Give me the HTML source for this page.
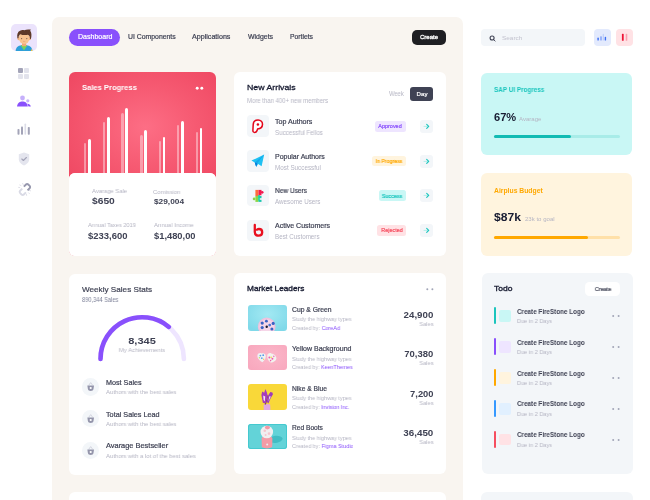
<!DOCTYPE html>
<html><head><meta charset="utf-8">
<style>
*{box-sizing:border-box;margin:0;padding:0}
html,body{width:650px;height:500px;overflow:hidden;background:#ffffff;font-family:'Liberation Sans',sans-serif}
.a{position:absolute}
.t{position:absolute;white-space:nowrap;font-family:'Liberation Sans',sans-serif;will-change:transform}
.card{position:absolute;background:#fff;border-radius:6px}
.badge{position:absolute;height:10.7px;border-radius:2.5px}
.arr{position:absolute;width:13px;height:13px;background:#f3f6f9;border-radius:3px}
.ibox{position:absolute;left:247px;width:21.6px;height:21.6px;background:#f3f6f9;border-radius:4px}
.bar{position:absolute;border-radius:1.5px 1.5px 0 0}
.img{position:absolute;left:247.5px;width:39px;height:25.7px;border-radius:3px;overflow:hidden}
.circ{position:absolute;left:81.8px;width:17.4px;height:17.4px;border-radius:50%;background:#f3f6f9}
.tbar{position:absolute;left:493.8px;width:1.8px;height:16.7px;border-radius:1px}
.tsq{position:absolute;left:499.4px;width:11.4px;height:11.6px;border-radius:2px}
.dot{position:absolute;width:1.8px;height:1.8px;border-radius:50%}
</style></head><body>
<!-- sidebar -->
<div class="a" style="left:11px;top:24px;width:25.5px;height:26.5px;border-radius:5px;background:#ebe3fc;overflow:hidden">
<svg width="26" height="27" viewBox="0 0 26 27">
 <path d="M4.6 27 C4.8 23 7.6 21 13 21 C18.4 21 21.2 23 21.4 27 Z" fill="#2e9fd9"/>
 <path d="M9.6 21.2 L13 26.5 L16.4 21.2 Z" fill="#76d35a"/>
 <path d="M20.6 24.8 L21.6 27 L19.8 27 Z" fill="#f4c53c"/>
 <rect x="11" y="17.6" width="4.2" height="4.6" fill="#f2a877"/>
 <ellipse cx="7.6" cy="14.6" rx="1.2" ry="1.6" fill="#f2b07e"/>
 <ellipse cx="18.8" cy="14.6" rx="1.2" ry="1.6" fill="#f2b07e"/>
 <ellipse cx="13.2" cy="14.2" rx="5.4" ry="5.8" fill="#f8c490"/>
 <path d="M6.4 14.2 C5.8 10.6 6.6 7.8 9 6.8 C10.4 5.8 12 5.8 13.2 6.2 C14.8 5.4 17.2 5.2 19.9 5.6 C19.3 6.1 19.1 6.6 19.5 7.2 C20.7 8.8 20.7 11.8 19.9 15.2 L18.9 14.4 C18.9 12.4 18.1 11.2 16.9 10.8 C14.1 11.4 11.1 11 9.1 10.2 C8 11.4 7.5 12.6 7.5 14.2 Z" fill="#5e3a28"/>
 <ellipse cx="10.6" cy="14.6" rx="0.6" ry="0.55" fill="#7a5a48"/><ellipse cx="15.8" cy="14.6" rx="0.6" ry="0.55" fill="#7a5a48"/>
 <path d="M12 17.3 Q13.2 18 14.4 17.3" stroke="#e0956a" stroke-width="0.5" fill="none"/>
</svg></div>
<div class="a" style="left:18px;top:67.6px;width:5px;height:5px;background:#a3a4b8;border-radius:1px"></div>
<div class="a" style="left:24px;top:67.6px;width:5px;height:5px;background:#e2e3ec;border-radius:1px"></div>
<div class="a" style="left:18px;top:73.8px;width:5px;height:5px;background:#e2e3ec;border-radius:1px"></div>
<div class="a" style="left:24px;top:73.8px;width:5px;height:5px;background:#e2e3ec;border-radius:1px"></div>
<svg class="a" style="left:16px;top:95px" width="16" height="13" viewBox="0 0 16 13">
 <circle cx="6.5" cy="3" r="2.4" fill="#c6b0fb"/>
 <circle cx="11.8" cy="5.8" r="1.6" fill="#c6b0fb"/>
 <path d="M1 11.6 C1.5 7.8 4 6.6 6.5 6.6 C9 6.6 11.2 7.8 11.8 11.6 Z" fill="#8950fc"/>
 <path d="M11.2 8.8 C12.8 8.6 14.3 9.6 14.8 11.6 L12.6 11.6 Z" fill="#8950fc"/>
</svg>
<svg class="a" style="left:17px;top:123px" width="14" height="12" viewBox="0 0 14 12">
 <rect x="0.5" y="6" width="2" height="5.7" rx="0.8" fill="#a3a4b8"/>
 <rect x="4" y="3.5" width="2" height="8.2" rx="0.8" fill="#a3a4b8"/>
 <rect x="7.5" y="0.5" width="1.6" height="11.2" rx="0.8" fill="#dcdde8"/>
 <rect x="10.8" y="4" width="2" height="7.7" rx="0.8" fill="#a3a4b8"/>
</svg>
<svg class="a" style="left:18px;top:151.5px" width="12" height="14" viewBox="0 0 12 14">
 <path d="M0.8 2.2 L6 0.4 L11.2 2.2 L11.2 7.2 C11.2 10.2 8.6 12.4 6 13.4 C3.4 12.4 0.8 10.2 0.8 7.2 Z" fill="#e4e5ee"/>
 <path d="M3.8 7 L5.4 8.5 L8.4 5.5" stroke="#a3a4b8" stroke-width="1.1" fill="none" stroke-linecap="round" stroke-linejoin="round"/>
</svg>
<svg class="a" style="left:14px;top:178px" width="22" height="22" viewBox="0 0 22 22">
 <g transform="translate(13.4 8.8) rotate(45) translate(-2.6 -2.2)"><path d="M0 4.6 L0 1.6 A1.6 1.6 0 0 1 1.6 0 L3.6 0 A1.6 1.6 0 0 1 5.2 1.6 L5.2 4.6" stroke="#9798ae" stroke-width="1.9" fill="none"/></g>
 <g transform="translate(8.4 14.2) rotate(45) translate(-2.6 -2.4)"><path d="M0 0 L0 3 A1.6 1.6 0 0 0 1.6 4.6 L3.6 4.6 A1.6 1.6 0 0 0 5.2 3 L5.2 0" stroke="#d9dae5" stroke-width="1.9" fill="none"/></g>
 <path d="M8.6 5.4 L9.2 6.6 M5.8 7 L7 7.6 M4.6 9.4 L5.8 9.6 M15.4 12.4 L16.6 12.8 M14.6 14.8 L15.4 15.6 M12.4 16.2 L12.6 17.4" stroke="#dcdde7" stroke-width="0.9" stroke-linecap="round"/>
</svg>

<!-- main beige container -->
<div class="a" style="left:52px;top:17px;width:411px;height:560px;background:#f9f5f0;border-radius:7px"></div>

<!-- nav -->
<div class="a" style="left:69px;top:29px;width:51px;height:17px;border-radius:8.5px;background:#8950fc"></div>
<div class="a" style="left:411.8px;top:30px;width:34.5px;height:14.5px;border-radius:5px;background:#1f1f23"></div>

<!-- right top -->
<div class="a" style="left:481px;top:29px;width:104px;height:17px;border-radius:4px;background:#f3f6f9"></div>
<svg class="a" style="left:488.5px;top:34.5px" width="7" height="7" viewBox="0 0 7 7">
 <circle cx="3.1" cy="3" r="2.0" stroke="#3f4254" stroke-width="1.1" fill="none"/>
 <path d="M4.6 4.5 L6.1 6" stroke="#3f4254" stroke-width="1.0" stroke-linecap="round"/>
</svg>
<div class="a" style="left:594px;top:29.2px;width:17px;height:16.8px;border-radius:4px;background:#e3eafd"></div>
<svg class="a" style="left:594px;top:29.2px" width="17" height="17" viewBox="0 0 17 17">
 <rect x="3.4" y="8.6" width="1.4" height="3" rx="0.6" fill="#3d6ff5"/>
 <rect x="6.3" y="7.2" width="1.4" height="4.4" rx="0.6" fill="#7f9ff8"/>
 <rect x="8.7" y="4.8" width="1.2" height="6.8" rx="0.6" fill="#bfd0fb"/>
 <rect x="10.7" y="7.8" width="1.4" height="3.8" rx="0.6" fill="#3d6ff5"/>
</svg>
<div class="a" style="left:615.5px;top:29.2px;width:17px;height:16.8px;border-radius:4px;background:#ffe2e5"></div>
<svg class="a" style="left:615.5px;top:29.2px" width="17" height="17" viewBox="0 0 17 17">
 <rect x="5.9" y="4.8" width="1.8" height="7" rx="0.6" fill="#ee1436"/>
 <rect x="9.7" y="4.8" width="1.6" height="7" rx="0.6" fill="#fa9fad"/>
</svg>

<!-- sales progress -->
<div class="card" style="left:69px;top:72.2px;width:147px;height:183.8px;overflow:hidden;background:radial-gradient(ellipse 100px 80px at 52% 30%, #fd6e85 0%, #f65a72 50%, #ef4862 100%)">
 <div id="bars"></div>
 <div class="a" style="left:0;top:100.8px;width:147px;height:90px;background:#fff;border-radius:6px 6px 0 0"></div>
</div>
<svg class="a" style="left:190px;top:80px" width="20" height="16" viewBox="0 0 20 16"><circle cx="7.2" cy="8.2" r="1.45" fill="#fff"/><circle cx="11.8" cy="8.2" r="1.45" fill="#fff"/></svg>
<div class="bar" style="left:83.80px;top:143.40px;width:2.4px;height:30.60px;background:rgba(255,255,255,0.4)"></div>
<div class="bar" style="left:102.60px;top:121.50px;width:2.4px;height:52.50px;background:rgba(255,255,255,0.4)"></div>
<div class="bar" style="left:121.30px;top:112.70px;width:2.4px;height:61.30px;background:rgba(255,255,255,0.4)"></div>
<div class="bar" style="left:140.20px;top:134.60px;width:2.4px;height:39.40px;background:rgba(255,255,255,0.4)"></div>
<div class="bar" style="left:158.60px;top:141.00px;width:2.4px;height:33.00px;background:rgba(255,255,255,0.4)"></div>
<div class="bar" style="left:177.10px;top:125.40px;width:2.4px;height:48.60px;background:rgba(255,255,255,0.4)"></div>
<div class="bar" style="left:195.60px;top:132.30px;width:2.4px;height:41.70px;background:rgba(255,255,255,0.4)"></div>
<div class="bar" style="left:87.80px;top:139.20px;width:2.8px;height:34.80px;background:#fff"></div>
<div class="bar" style="left:106.80px;top:116.80px;width:2.8px;height:57.20px;background:#fff"></div>
<div class="bar" style="left:125.20px;top:108.00px;width:2.8px;height:66.00px;background:#fff"></div>
<div class="bar" style="left:144.10px;top:130.00px;width:2.8px;height:44.00px;background:#fff"></div>
<div class="bar" style="left:162.60px;top:136.50px;width:2.8px;height:37.50px;background:#fff"></div>
<div class="bar" style="left:181.10px;top:121.20px;width:2.8px;height:52.80px;background:#fff"></div>
<div class="bar" style="left:199.60px;top:127.70px;width:2.8px;height:46.30px;background:#fff"></div>
<div class="a" style="left:69px;top:173px;width:147px;height:83px;background:#fff;border-radius:6px"></div>

<!-- new arrivals -->
<div class="card" style="left:234.2px;top:72.2px;width:211.8px;height:183.8px"></div>
<div class="a" style="left:410.4px;top:87.3px;width:22.6px;height:14px;border-radius:3px;background:#3f4254"></div>
<div class="ibox" style="top:115.40px"></div>
<svg class="a" style="left:247px;top:115.00px" width="22" height="22" viewBox="0 0 22 22">
 <path d="M7.6 17.4 C6.4 17.4 5.8 16.6 5.9 15.5 L6.2 9.6 C6.3 6.6 8.4 4.9 11.1 4.9 C13.8 4.9 15.6 6.9 15.5 9.4 C15.4 12.3 13.3 13.8 10.6 14 L9.9 15.9 C9.5 16.9 8.7 17.4 7.6 17.4 Z" fill="#fff" stroke="#e4061a" stroke-width="1.5"/>
 <circle cx="10.9" cy="9.4" r="1.25" fill="#e4061a"/>
 </svg>
<div class="badge" style="left:374.7px;top:121.00px;width:31.50px;background:#eee5ff"></div>
<div class="arr" style="left:420px;top:120.00px"></div>
<svg class="a" style="left:420px;top:120.00px" width="13" height="13" viewBox="0 0 13 13">
 <path d="M4 6.4 L7.4 6.4" stroke="#b2ede9" stroke-width="1.0" stroke-linecap="round"/>
 <path d="M6.7 4.4 L8.7 6.4 L6.7 8.4" stroke="#1bc5bd" stroke-width="1.15" fill="none" stroke-linecap="round" stroke-linejoin="round"/>
 </svg>
<div class="ibox" style="top:150.10px"></div>
<svg class="a" style="left:247px;top:149.70px" width="22" height="22" viewBox="0 0 22 22">
 <path d="M17.2 4.6 L4.4 10.6 L7.8 12.4 L9.2 16.8 L11.2 13.9 L14.6 16.2 Z" fill="#1fc0f2"/>
 <path d="M17.2 4.6 L7.8 12.4 L9.2 16.8 L10.2 13.4 Z" fill="#12a8ec"/>
 <path d="M7.8 12.4 L9.2 16.8 L10.2 13.4 Z" fill="#0a78d8"/>
 </svg>
<div class="badge" style="left:372.0px;top:155.70px;width:34.20px;background:#fff4de"></div>
<div class="arr" style="left:420px;top:154.70px"></div>
<svg class="a" style="left:420px;top:154.70px" width="13" height="13" viewBox="0 0 13 13">
 <path d="M4 6.4 L7.4 6.4" stroke="#b2ede9" stroke-width="1.0" stroke-linecap="round"/>
 <path d="M6.7 4.4 L8.7 6.4 L6.7 8.4" stroke="#1bc5bd" stroke-width="1.15" fill="none" stroke-linecap="round" stroke-linejoin="round"/>
 </svg>
<div class="ibox" style="top:184.80px"></div>
<svg class="a" style="left:247px;top:184.40px" width="22" height="22" viewBox="0 0 22 22">
 <rect x="8.4" y="5.9" width="3.1" height="6.1" fill="#ff6b3d"/>
 <rect x="11.5" y="5.9" width="3.0" height="5.4" fill="#f4194f"/>
 <circle cx="15.2" cy="8.3" r="1.35" fill="#f4194f"/>
 <rect x="8.4" y="12" width="3.1" height="5.9" fill="#8bd648"/>
 <circle cx="7.1" cy="14.9" r="1.35" fill="#8bd648"/>
 <rect x="11.5" y="12" width="3.0" height="2.2" fill="#1cc7b0"/>
 <rect x="11.5" y="15.8" width="3.0" height="2.1" fill="#1cc7b0"/>
 <rect x="11.2" y="11" width="1.6" height="5.6" fill="#19d3a2"/>
 </svg>
<div class="badge" style="left:378.5px;top:190.40px;width:27.70px;background:#c9f7f5"></div>
<div class="arr" style="left:420px;top:189.40px"></div>
<svg class="a" style="left:420px;top:189.40px" width="13" height="13" viewBox="0 0 13 13">
 <path d="M4 6.4 L7.4 6.4" stroke="#b2ede9" stroke-width="1.0" stroke-linecap="round"/>
 <path d="M6.7 4.4 L8.7 6.4 L6.7 8.4" stroke="#1bc5bd" stroke-width="1.15" fill="none" stroke-linecap="round" stroke-linejoin="round"/>
 </svg>
<div class="ibox" style="top:219.50px"></div>
<svg class="a" style="left:247px;top:219.10px" width="22" height="22" viewBox="0 0 22 22">
 <path d="M7.8 5.9 L7.8 13 C7.8 15.6 9.6 16.6 11.6 16.6 C13.8 16.6 15.2 15.2 15.2 13.2 C15.2 11.2 13.8 10 12 10 C11.2 10 10.5 10.3 10 10.7" stroke="#e8101f" stroke-width="2.3" fill="none" stroke-linecap="round"/>
 </svg>
<div class="badge" style="left:377.4px;top:225.10px;width:28.80px;background:#ffe2e5"></div>
<div class="arr" style="left:420px;top:224.10px"></div>
<svg class="a" style="left:420px;top:224.10px" width="13" height="13" viewBox="0 0 13 13">
 <path d="M4 6.4 L7.4 6.4" stroke="#b2ede9" stroke-width="1.0" stroke-linecap="round"/>
 <path d="M6.7 4.4 L8.7 6.4 L6.7 8.4" stroke="#1bc5bd" stroke-width="1.15" fill="none" stroke-linecap="round" stroke-linejoin="round"/>
 </svg>

<!-- SAP / budget -->
<div class="card" style="left:481.4px;top:72.6px;width:151px;height:82.6px;background:#c9f7f5"></div>
<div class="a" style="left:494px;top:135.2px;width:125.6px;height:3.2px;border-radius:2px;background:#a8ece8"></div>
<div class="a" style="left:494px;top:135.2px;width:77px;height:3.2px;border-radius:2px;background:#12bbb3"></div>
<div class="card" style="left:481.2px;top:172.9px;width:151px;height:82.7px;background:#fff4de"></div>
<div class="a" style="left:494px;top:235.9px;width:125.5px;height:3px;border-radius:2px;background:#ffe0a8"></div>
<div class="a" style="left:494px;top:235.9px;width:94px;height:3px;border-radius:2px;background:#ffa800"></div>

<!-- weekly -->
<div class="card" style="left:68.9px;top:273.6px;width:146.9px;height:201px"></div>
<svg class="a" style="left:92px;top:308px" width="100" height="60" viewBox="0 0 100 60">
 <path d="M8.5 51 A41.7 41.7 0 0 1 91.9 51" stroke="#eee5ff" stroke-width="4.6" fill="none" stroke-linecap="round"/>
 <path d="M8.5 51 A41.7 41.7 0 0 1 76.9 18.9" stroke="#8950fc" stroke-width="4.6" fill="none" stroke-linecap="round"/>
</svg>
<div class="circ" style="top:378.40px"></div>
<svg class="a" style="left:81.8px;top:378.40px" width="17.4" height="17.4" viewBox="0 0 17.4 17.4">
 <path d="M6.8 7.2 L8.7 4.6 L10.6 7.2" stroke="#cfd0dd" stroke-width="0.9" fill="none"/>
 <path d="M5.4 7.4 L12 7.4 L11.6 10.4 C11.3 12.2 10.3 12.9 8.7 12.9 C7.1 12.9 6.1 12.2 5.8 10.4 Z" fill="#9495ab"/>
 <circle cx="8.7" cy="10" r="1.1" fill="#fff"/>
 </svg>
<div class="circ" style="top:410.10px"></div>
<svg class="a" style="left:81.8px;top:410.10px" width="17.4" height="17.4" viewBox="0 0 17.4 17.4">
 <path d="M6.8 7.2 L8.7 4.6 L10.6 7.2" stroke="#cfd0dd" stroke-width="0.9" fill="none"/>
 <path d="M5.4 7.4 L12 7.4 L11.6 10.4 C11.3 12.2 10.3 12.9 8.7 12.9 C7.1 12.9 6.1 12.2 5.8 10.4 Z" fill="#9495ab"/>
 <circle cx="8.7" cy="10" r="1.1" fill="#fff"/>
 </svg>
<div class="circ" style="top:441.80px"></div>
<svg class="a" style="left:81.8px;top:441.80px" width="17.4" height="17.4" viewBox="0 0 17.4 17.4">
 <path d="M6.8 7.2 L8.7 4.6 L10.6 7.2" stroke="#cfd0dd" stroke-width="0.9" fill="none"/>
 <path d="M5.4 7.4 L12 7.4 L11.6 10.4 C11.3 12.2 10.3 12.9 8.7 12.9 C7.1 12.9 6.1 12.2 5.8 10.4 Z" fill="#9495ab"/>
 <circle cx="8.7" cy="10" r="1.1" fill="#fff"/>
 </svg>

<!-- market leaders -->
<div class="card" style="left:234.4px;top:273.4px;width:212px;height:200.8px"></div>
<svg class="a" style="left:420px;top:280px" width="20" height="16" viewBox="0 0 20 16"><circle cx="7.3" cy="9.2" r="1.0" fill="#a1a5b7"/><circle cx="12.4" cy="9.2" r="1.0" fill="#a1a5b7"/></svg>
<div class="img" style="top:305.00px;background:radial-gradient(ellipse 26px 18px at 50% 35%, #a3e9f3 0%, #80d9e9 100%)">
 <svg width="39" height="26" viewBox="0 0 39 26" style="position:absolute;left:0;top:0">
  <circle cx="18.7" cy="21.4" r="8.8" fill="#f0c2de"/>
  <circle cx="18.7" cy="21.4" r="7.2" fill="#f6d6e8"/>
  <circle cx="18.7" cy="21.7" r="1.2" fill="#16172a"/>
  <circle cx="14.2" cy="18.1" r="1.6" fill="#3a62c4"/><circle cx="18.4" cy="16.2" r="1.4" fill="#3a62c4"/>
  <circle cx="25.2" cy="18.4" r="1.6" fill="#3a62c4"/><circle cx="21.7" cy="20.1" r="1.4" fill="#4a74d4"/>
  <circle cx="14.2" cy="22.6" r="1.6" fill="#3a62c4"/><circle cx="23.9" cy="23.9" r="1.5" fill="#3a62c4"/>
 </svg></div>
<div class="img" style="top:344.50px;background:radial-gradient(ellipse 26px 18px at 55% 45%, #fbb7c9 0%, #f8a8be 100%)">
 <svg width="39" height="26" viewBox="0 0 39 26" style="position:absolute;left:0;top:0">
  <path d="M9.4 11.2 C9.2 8.6 11.6 7.4 13.6 8.4 C15.4 7.6 17.8 8.6 17.8 11 C17.8 13.6 16.2 16 14.4 17.2 C12.4 16.2 9.6 13.8 9.4 11.2 Z" fill="#eef3f4"/>
  <path d="M19.2 10.8 C19.4 8.4 21.6 7.6 23.4 8.4 C25.6 8.6 28.6 10.8 28.4 13.4 C28.2 15.6 25.6 17.4 22.6 17.4 C20.6 16.4 19 13.4 19.2 10.8 Z" fill="#f3f2ee"/>
  <circle cx="12.4" cy="10.6" r="0.9" fill="#5c9be8"/><circle cx="15.2" cy="10.2" r="0.9" fill="#5c9be8"/>
  <circle cx="13.8" cy="13.2" r="0.9" fill="#6aa6ea"/><circle cx="11.4" cy="12.8" r="0.7" fill="#c8e06a"/>
  <circle cx="15.6" cy="14.2" r="0.7" fill="#f0d060"/>
  <circle cx="21.4" cy="12.4" r="1.0" fill="#ef5cae"/><circle cx="24.4" cy="13.8" r="1.0" fill="#ef5cae"/>
  <circle cx="23.2" cy="12.2" r="0.8" fill="#eee04a"/><circle cx="25.8" cy="11.4" r="0.8" fill="#ef7cbf"/>
  <circle cx="22.6" cy="15.6" r="0.8" fill="#ef5cae"/>
 </svg></div>
<div class="img" style="top:384.00px;background:#f9d839">
 <svg width="39" height="26" viewBox="0 0 39 26" style="position:absolute;left:0;top:0">
  <path d="M15.6 20.6 C17 19.8 20.4 19.8 22.2 20.6 L22.4 26 L15.8 26 Z" fill="#e3a8e0"/>
  <path d="M16.6 20.4 L19.6 11 L20.4 11.4 L18 20.6 Z" fill="#7a4a3a"/>
  <path d="M14.8 18.8 L13.4 11 L14.2 7.4 L16.2 8.8 L17.4 5 L18.8 8.2 L19.8 12 L17.6 19.6 Z" fill="#a63bbd"/>
  <path d="M18.6 17.8 L20.4 11 L22.4 8 L24.4 8.4 L25 10.2 L22.6 14.2 L20.4 19.4 Z" fill="#a03cb8"/>
  <path d="M15.2 11.6 L17.2 12.6 L16.8 17.6 L15.6 16 Z" fill="#f2e6f4"/>
  <path d="M21.2 12.2 L22.8 12.4 L20.6 17 Z" fill="#f0e0f2"/>
 </svg></div>
<div class="img" style="top:423.50px;background:#63d3d8;box-shadow:inset 0 0 0 1px #45c9cf">
 <svg width="39" height="26" viewBox="0 0 39 26" style="position:absolute;left:0;top:0">
  <path d="M23.6 13 C27 11 33.5 11.4 34.6 14.4 C34 18 28 19.6 23.6 18.6 Z" fill="#42bdc4"/>
  <path d="M13.6 14.4 C13.6 13.4 14.6 12.8 16 12.8 L22 12.8 C23.4 12.8 24.4 13.4 24.4 14.4 L24.2 22.6 C24.2 23.8 21.6 24.4 19 24.4 C16.4 24.4 13.8 23.8 13.8 22.6 Z" fill="#f49ba6"/>
  <circle cx="18.8" cy="8" r="6.3" fill="#f1eef0"/>
  <circle cx="16.8" cy="6.8" r="1.3" fill="#f6c4cc"/><circle cx="21" cy="9.6" r="1.3" fill="#f6c4cc"/><circle cx="17.6" cy="11" r="1" fill="#f6c4cc"/>
  <ellipse cx="19.4" cy="3.6" rx="2.6" ry="1.8" fill="#f39aa6"/>
  <circle cx="19.2" cy="20.4" r="1" fill="#e9eef0"/>
 </svg></div>

<!-- todo -->
<div class="card" style="left:481.7px;top:273.4px;width:150.9px;height:200.8px;background:#f3f6f9"></div>
<div class="a" style="left:585px;top:281.5px;width:35px;height:14.8px;border-radius:4.5px;background:#fff"></div>
<div class="tbar" style="top:307.40px;background:#1bc5bd"></div>
<div class="tsq" style="top:310.30px;background:#c9f7f5"></div>
<svg class="a" style="left:608px;top:308.00px" width="16" height="16" viewBox="0 0 16 16"><circle cx="5.2" cy="8" r="1.0" fill="#a1a5b7"/><circle cx="10.6" cy="8" r="1.0" fill="#a1a5b7"/></svg>
<div class="tbar" style="top:338.30px;background:#8950fc"></div>
<div class="tsq" style="top:341.20px;background:#eee5ff"></div>
<svg class="a" style="left:608px;top:338.90px" width="16" height="16" viewBox="0 0 16 16"><circle cx="5.2" cy="8" r="1.0" fill="#a1a5b7"/><circle cx="10.6" cy="8" r="1.0" fill="#a1a5b7"/></svg>
<div class="tbar" style="top:369.20px;background:#ffa800"></div>
<div class="tsq" style="top:372.10px;background:#fff4de"></div>
<svg class="a" style="left:608px;top:369.80px" width="16" height="16" viewBox="0 0 16 16"><circle cx="5.2" cy="8" r="1.0" fill="#a1a5b7"/><circle cx="10.6" cy="8" r="1.0" fill="#a1a5b7"/></svg>
<div class="tbar" style="top:400.10px;background:#3699ff"></div>
<div class="tsq" style="top:403.00px;background:#e1f0ff"></div>
<svg class="a" style="left:608px;top:400.70px" width="16" height="16" viewBox="0 0 16 16"><circle cx="5.2" cy="8" r="1.0" fill="#a1a5b7"/><circle cx="10.6" cy="8" r="1.0" fill="#a1a5b7"/></svg>
<div class="tbar" style="top:431.00px;background:#f64e60"></div>
<div class="tsq" style="top:433.90px;background:#ffe2e5"></div>
<svg class="a" style="left:608px;top:431.60px" width="16" height="16" viewBox="0 0 16 16"><circle cx="5.2" cy="8" r="1.0" fill="#a1a5b7"/><circle cx="10.6" cy="8" r="1.0" fill="#a1a5b7"/></svg>

<!-- bottom cards -->
<div class="card" style="left:69px;top:492.2px;width:377px;height:40px"></div>
<div class="card" style="left:481px;top:491.5px;width:151.5px;height:40px;background:#f3f6f9"></div>

<div class="t" style="top:34.14px;font-size:6.8px;line-height:6.8px;color:#ffffff;font-weight:400;-webkit-text-stroke:0.2px;left:77.60px;transform-origin:0 0;transform:scaleX(1.034);">Dashboard</div>
<div class="t" style="top:34.31px;font-size:6.6px;line-height:6.6px;color:#3f4254;font-weight:400;-webkit-text-stroke:0.2px;left:128.10px;transform-origin:0 0;transform:scaleX(1.041);">UI Components</div>
<div class="t" style="top:34.31px;font-size:6.6px;line-height:6.6px;color:#3f4254;font-weight:400;-webkit-text-stroke:0.2px;left:192.10px;transform-origin:0 0;transform:scaleX(1.080);">Applications</div>
<div class="t" style="top:34.31px;font-size:6.6px;line-height:6.6px;color:#3f4254;font-weight:400;-webkit-text-stroke:0.2px;left:247.50px;transform-origin:0 0;transform:scaleX(1.053);">Widgets</div>
<div class="t" style="top:34.31px;font-size:6.6px;line-height:6.6px;color:#3f4254;font-weight:400;-webkit-text-stroke:0.2px;left:289.90px;transform-origin:0 0;transform:scaleX(1.028);">Portlets</div>
<div class="t" style="top:34.42px;font-size:6.0px;line-height:6.0px;color:#ffffff;font-weight:400;-webkit-text-stroke:0.35px;left:429.00px;transform-origin:50% 0;transform:translateX(-50%) scaleX(0.991);">Create</div>
<div class="t" style="top:34.95px;font-size:6.2px;line-height:6.2px;color:#c2c2ce;font-weight:400;left:501.80px;transform-origin:0 0;transform:scaleX(1.039);">Search</div>
<div class="t" style="top:84.31px;font-size:7.9px;line-height:7.9px;color:#ffffff;font-weight:700;left:81.60px;transform-origin:0 0;transform:scaleX(0.962);">Sales Progress</div>
<div class="t" style="top:187.93px;font-size:6.05px;line-height:6.05px;color:#b5b5c3;font-weight:400;left:92.40px;transform-origin:0 0;transform:scaleX(0.971);">Avarage Sale</div>
<div class="t" style="top:197.32px;font-size:8.6px;line-height:8.6px;color:#3f4254;font-weight:700;left:92.40px;transform-origin:0 0;transform:scaleX(1.193);">$650</div>
<div class="t" style="top:188.73px;font-size:6.05px;line-height:6.05px;color:#b5b5c3;font-weight:400;left:153.40px;transform-origin:0 0;transform:scaleX(0.973);">Comission</div>
<div class="t" style="top:197.97px;font-size:7.0px;line-height:7.0px;color:#3f4254;font-weight:700;left:153.60px;transform-origin:0 0;transform:scaleX(1.186);">$29,004</div>
<div class="t" style="top:222.23px;font-size:6.05px;line-height:6.05px;color:#b5b5c3;font-weight:400;left:88.40px;transform-origin:0 0;transform:scaleX(0.931);">Annual Taxes 2019</div>
<div class="t" style="top:232.22px;font-size:8.6px;line-height:8.6px;color:#3f4254;font-weight:700;left:88.40px;transform-origin:0 0;transform:scaleX(1.102);">$233,600</div>
<div class="t" style="top:222.23px;font-size:6.05px;line-height:6.05px;color:#b5b5c3;font-weight:400;left:153.60px;transform-origin:0 0;transform:scaleX(0.983);">Annual Income</div>
<div class="t" style="top:232.22px;font-size:8.6px;line-height:8.6px;color:#3f4254;font-weight:700;left:153.60px;transform-origin:0 0;transform:scaleX(1.086);">$1,480,00</div>
<div class="t" style="top:84.34px;font-size:8.1px;line-height:8.1px;color:#181c32;font-weight:400;-webkit-text-stroke:0.3px;left:246.60px;transform-origin:0 0;transform:scaleX(1.082);">New Arrivals</div>
<div class="t" style="top:97.64px;font-size:6.27px;line-height:6.27px;color:#b5b5c3;font-weight:400;left:246.60px;transform-origin:0 0;transform:scaleX(0.952);">More than 400+ new members</div>
<div class="t" style="top:91.34px;font-size:6.27px;line-height:6.27px;color:#b5b5c3;font-weight:400;left:389.00px;transform-origin:0 0;transform:scaleX(0.929);">Week</div>
<div class="t" style="top:91.02px;font-size:6.0px;line-height:6.0px;color:#ffffff;font-weight:400;-webkit-text-stroke:0.2px;left:421.70px;transform-origin:50% 0;transform:translateX(-50%) scaleX(1.018);">Day</div>
<div class="t" style="top:118.84px;font-size:6.8px;line-height:6.8px;color:#3f4254;font-weight:400;-webkit-text-stroke:0.2px;left:275.40px;transform-origin:0 0;transform:scaleX(1.042);">Top Authors</div>
<div class="t" style="top:129.84px;font-size:6.27px;line-height:6.27px;color:#b5b5c3;font-weight:400;left:275.40px;transform-origin:0 0;transform:scaleX(0.984);">Successful Fellos</div>
<div class="t" style="top:124.33px;font-size:5.4px;line-height:5.4px;color:#8950fc;font-weight:400;-webkit-text-stroke:0.2px;left:390.45px;transform-origin:50% 0;transform:translateX(-50%) scaleX(1.015);">Approved</div>
<div class="t" style="top:153.54px;font-size:6.8px;line-height:6.8px;color:#3f4254;font-weight:400;-webkit-text-stroke:0.2px;left:275.40px;transform-origin:0 0;transform:scaleX(1.028);">Popular Authors</div>
<div class="t" style="top:164.54px;font-size:6.27px;line-height:6.27px;color:#b5b5c3;font-weight:400;left:275.40px;transform-origin:0 0;transform:scaleX(1.006);">Most Successful</div>
<div class="t" style="top:159.03px;font-size:5.4px;line-height:5.4px;color:#ffa800;font-weight:400;-webkit-text-stroke:0.2px;left:389.10px;transform-origin:50% 0;transform:translateX(-50%) scaleX(0.965);">In Progress</div>
<div class="t" style="top:188.24px;font-size:6.8px;line-height:6.8px;color:#3f4254;font-weight:400;-webkit-text-stroke:0.2px;left:275.40px;transform-origin:0 0;transform:scaleX(0.963);">New Users</div>
<div class="t" style="top:199.24px;font-size:6.27px;line-height:6.27px;color:#b5b5c3;font-weight:400;left:275.40px;transform-origin:0 0;transform:scaleX(0.993);">Awesome Users</div>
<div class="t" style="top:193.73px;font-size:5.4px;line-height:5.4px;color:#1bc5bd;font-weight:400;-webkit-text-stroke:0.2px;left:392.35px;transform-origin:50% 0;transform:translateX(-50%) scaleX(0.997);">Success</div>
<div class="t" style="top:222.94px;font-size:6.8px;line-height:6.8px;color:#3f4254;font-weight:400;-webkit-text-stroke:0.2px;left:275.40px;transform-origin:0 0;transform:scaleX(1.035);">Active Customers</div>
<div class="t" style="top:233.94px;font-size:6.27px;line-height:6.27px;color:#b5b5c3;font-weight:400;left:275.40px;transform-origin:0 0;transform:scaleX(1.000);">Best Customers</div>
<div class="t" style="top:228.43px;font-size:5.4px;line-height:5.4px;color:#f64e60;font-weight:400;-webkit-text-stroke:0.2px;left:391.80px;transform-origin:50% 0;transform:translateX(-50%) scaleX(1.002);">Rejected</div>
<div class="t" style="top:87.24px;font-size:6.8px;line-height:6.8px;color:#1bc5bd;font-weight:700;left:494.00px;transform-origin:0 0;transform:scaleX(0.935);">SAP UI Progress</div>
<div class="t" style="top:111.69px;font-size:11.0px;line-height:11.0px;color:#181c32;font-weight:700;left:494.40px;transform-origin:0 0;transform:scaleX(1.010);">67%</div>
<div class="t" style="top:115.83px;font-size:6.05px;line-height:6.05px;color:#b5b5c3;font-weight:400;left:519.40px;transform-origin:0 0;transform:scaleX(0.997);">Avarage</div>
<div class="t" style="top:187.54px;font-size:6.8px;line-height:6.8px;color:#ffa800;font-weight:700;left:494.00px;transform-origin:0 0;transform:scaleX(0.994);">Airplus Budget</div>
<div class="t" style="top:212.12px;font-size:11.2px;line-height:11.2px;color:#181c32;font-weight:700;left:494.20px;transform-origin:0 0;transform:scaleX(1.084);">$87k</div>
<div class="t" style="top:216.33px;font-size:6.05px;line-height:6.05px;color:#b5b5c3;font-weight:400;left:524.70px;transform-origin:0 0;transform:scaleX(0.996);">23k to goal</div>
<div class="t" style="top:285.54px;font-size:8.1px;line-height:8.1px;color:#3f4254;font-weight:400;-webkit-text-stroke:0.2px;left:82.20px;transform-origin:0 0;transform:scaleX(1.007);">Weekly Sales Stats</div>
<div class="t" style="top:297.44px;font-size:6.27px;line-height:6.27px;color:#7e8299;font-weight:400;left:82.20px;transform-origin:0 0;transform:scaleX(0.905);">890,344 Sales</div>
<div class="t" style="top:336.04px;font-size:9.4px;line-height:9.4px;color:#3f4254;font-weight:700;left:142.30px;transform-origin:50% 0;transform:translateX(-50%) scaleX(1.174);">8,345</div>
<div class="t" style="top:346.83px;font-size:6.05px;line-height:6.05px;color:#b5b5c3;font-weight:400;left:142.00px;transform-origin:50% 0;transform:translateX(-50%) scaleX(0.978);">My Achievements</div>
<div class="t" style="top:379.93px;font-size:6.7px;line-height:6.7px;color:#3f4254;font-weight:400;-webkit-text-stroke:0.2px;left:106.00px;transform-origin:0 0;transform:scaleX(1.076);">Most Sales</div>
<div class="t" style="top:389.43px;font-size:6.05px;line-height:6.05px;color:#b5b5c3;font-weight:400;left:106.00px;transform-origin:0 0;transform:scaleX(0.974);">Authors with the best sales</div>
<div class="t" style="top:411.63px;font-size:6.7px;line-height:6.7px;color:#3f4254;font-weight:400;-webkit-text-stroke:0.2px;left:106.00px;transform-origin:0 0;transform:scaleX(1.084);">Total Sales Lead</div>
<div class="t" style="top:421.13px;font-size:6.05px;line-height:6.05px;color:#b5b5c3;font-weight:400;left:106.00px;transform-origin:0 0;transform:scaleX(0.974);">Authors with the best sales</div>
<div class="t" style="top:443.33px;font-size:6.7px;line-height:6.7px;color:#3f4254;font-weight:400;-webkit-text-stroke:0.2px;left:106.00px;transform-origin:0 0;transform:scaleX(1.109);">Avarage Bestseller</div>
<div class="t" style="top:452.83px;font-size:6.05px;line-height:6.05px;color:#b5b5c3;font-weight:400;left:106.00px;transform-origin:0 0;transform:scaleX(0.975);">Authors with a lot of the best sales</div>
<div class="t" style="top:285.31px;font-size:7.9px;line-height:7.9px;color:#181c32;font-weight:400;-webkit-text-stroke:0.35px;left:247.00px;transform-origin:0 0;transform:scaleX(1.048);">Market Leaders</div>
<div class="t" style="top:306.58px;font-size:6.4px;line-height:6.4px;color:#3f4254;font-weight:400;-webkit-text-stroke:0.2px;left:292.40px;transform-origin:0 0;transform:scaleX(1.061);">Cup &amp; Green</div>
<div class="t" style="top:317.12px;font-size:5.82px;line-height:5.82px;color:#b5b5c3;font-weight:400;left:292.40px;transform-origin:0 0;transform:scaleX(0.945);">Study the highway types</div>
<div class="t" style="top:325.52px;font-size:5.82px;line-height:5.82px;color:#b5b5c3;font-weight:400;left:292.40px;transform-origin:0 0;transform:scaleX(0.933);">Created by: <span style="color:#8950fc">CoreAd</span></div>
<div class="t" style="top:310.72px;font-size:8.6px;line-height:8.6px;color:#3f4254;font-weight:700;right:216.40px;transform-origin:100% 0;transform:scaleX(1.130);">24,900</div>
<div class="t" style="top:321.82px;font-size:5.82px;line-height:5.82px;color:#b5b5c3;font-weight:400;right:216.60px;transform-origin:100% 0;transform:scaleX(0.973);">Sales</div>
<div class="t" style="top:346.08px;font-size:6.4px;line-height:6.4px;color:#3f4254;font-weight:400;-webkit-text-stroke:0.2px;left:292.40px;transform-origin:0 0;transform:scaleX(1.099);">Yellow Background</div>
<div class="t" style="top:356.62px;font-size:5.82px;line-height:5.82px;color:#b5b5c3;font-weight:400;left:292.40px;transform-origin:0 0;transform:scaleX(0.945);">Study the highway types</div>
<div class="t" style="top:365.02px;font-size:5.82px;line-height:5.82px;color:#b5b5c3;font-weight:400;left:292.40px;transform-origin:0 0;transform:scaleX(0.916);">Created by: <span style="color:#8950fc">KeenThemes</span></div>
<div class="t" style="top:350.22px;font-size:8.6px;line-height:8.6px;color:#3f4254;font-weight:700;right:216.40px;transform-origin:100% 0;transform:scaleX(1.103);">70,380</div>
<div class="t" style="top:361.32px;font-size:5.82px;line-height:5.82px;color:#b5b5c3;font-weight:400;right:216.60px;transform-origin:100% 0;transform:scaleX(0.973);">Sales</div>
<div class="t" style="top:385.58px;font-size:6.4px;line-height:6.4px;color:#3f4254;font-weight:400;-webkit-text-stroke:0.2px;left:292.40px;transform-origin:0 0;transform:scaleX(1.045);">Nike &amp; Blue</div>
<div class="t" style="top:396.12px;font-size:5.82px;line-height:5.82px;color:#b5b5c3;font-weight:400;left:292.40px;transform-origin:0 0;transform:scaleX(0.945);">Study the highway types</div>
<div class="t" style="top:404.52px;font-size:5.82px;line-height:5.82px;color:#b5b5c3;font-weight:400;left:292.40px;transform-origin:0 0;transform:scaleX(0.921);">Created by: <span style="color:#8950fc">Invision Inc.</span></div>
<div class="t" style="top:389.72px;font-size:8.6px;line-height:8.6px;color:#3f4254;font-weight:700;right:216.40px;transform-origin:100% 0;transform:scaleX(1.088);">7,200</div>
<div class="t" style="top:400.82px;font-size:5.82px;line-height:5.82px;color:#b5b5c3;font-weight:400;right:216.60px;transform-origin:100% 0;transform:scaleX(0.973);">Sales</div>
<div class="t" style="top:425.08px;font-size:6.4px;line-height:6.4px;color:#3f4254;font-weight:400;-webkit-text-stroke:0.2px;left:292.40px;transform-origin:0 0;transform:scaleX(1.035);">Red Boots</div>
<div class="t" style="top:435.62px;font-size:5.82px;line-height:5.82px;color:#b5b5c3;font-weight:400;left:292.40px;transform-origin:0 0;transform:scaleX(0.945);">Study the highway types</div>
<div class="t" style="top:444.02px;font-size:5.82px;line-height:5.82px;color:#b5b5c3;font-weight:400;left:292.40px;transform-origin:0 0;transform:scaleX(0.931);">Created by: <span style="color:#8950fc">Figma Studio</span></div>
<div class="t" style="top:429.22px;font-size:8.6px;line-height:8.6px;color:#3f4254;font-weight:700;right:216.40px;transform-origin:100% 0;transform:scaleX(1.141);">36,450</div>
<div class="t" style="top:440.32px;font-size:5.82px;line-height:5.82px;color:#b5b5c3;font-weight:400;right:216.60px;transform-origin:100% 0;transform:scaleX(0.973);">Sales</div>
<div class="t" style="top:285.33px;font-size:8.0px;line-height:8.0px;color:#181c32;font-weight:400;-webkit-text-stroke:0.35px;left:494.00px;transform-origin:0 0;transform:scaleX(1.065);">Todo</div>
<div class="t" style="top:286.56px;font-size:5.6px;line-height:5.6px;color:#3f4254;font-weight:400;-webkit-text-stroke:0.2px;left:602.50px;transform-origin:50% 0;transform:translateX(-50%) scaleX(0.973);">Create</div>
<div class="t" style="top:308.79px;font-size:7.1px;line-height:7.1px;color:#3f4254;font-weight:700;left:516.60px;transform-origin:0 0;transform:scaleX(0.889);">Create FireStone Logo</div>
<div class="t" style="top:318.44px;font-size:6.16px;line-height:6.16px;color:#b5b5c3;font-weight:400;left:516.60px;transform-origin:0 0;transform:scaleX(0.909);">Due in 2 Days</div>
<div class="t" style="top:339.69px;font-size:7.1px;line-height:7.1px;color:#3f4254;font-weight:700;left:516.60px;transform-origin:0 0;transform:scaleX(0.889);">Create FireStone Logo</div>
<div class="t" style="top:349.34px;font-size:6.16px;line-height:6.16px;color:#b5b5c3;font-weight:400;left:516.60px;transform-origin:0 0;transform:scaleX(0.909);">Due in 2 Days</div>
<div class="t" style="top:370.59px;font-size:7.1px;line-height:7.1px;color:#3f4254;font-weight:700;left:516.60px;transform-origin:0 0;transform:scaleX(0.889);">Create FireStone Logo</div>
<div class="t" style="top:380.24px;font-size:6.16px;line-height:6.16px;color:#b5b5c3;font-weight:400;left:516.60px;transform-origin:0 0;transform:scaleX(0.909);">Due in 2 Days</div>
<div class="t" style="top:401.49px;font-size:7.1px;line-height:7.1px;color:#3f4254;font-weight:700;left:516.60px;transform-origin:0 0;transform:scaleX(0.889);">Create FireStone Logo</div>
<div class="t" style="top:411.14px;font-size:6.16px;line-height:6.16px;color:#b5b5c3;font-weight:400;left:516.60px;transform-origin:0 0;transform:scaleX(0.909);">Due in 2 Days</div>
<div class="t" style="top:432.39px;font-size:7.1px;line-height:7.1px;color:#3f4254;font-weight:700;left:516.60px;transform-origin:0 0;transform:scaleX(0.889);">Create FireStone Logo</div>
<div class="t" style="top:442.04px;font-size:6.16px;line-height:6.16px;color:#b5b5c3;font-weight:400;left:516.60px;transform-origin:0 0;transform:scaleX(0.909);">Due in 2 Days</div>
</body></html>
